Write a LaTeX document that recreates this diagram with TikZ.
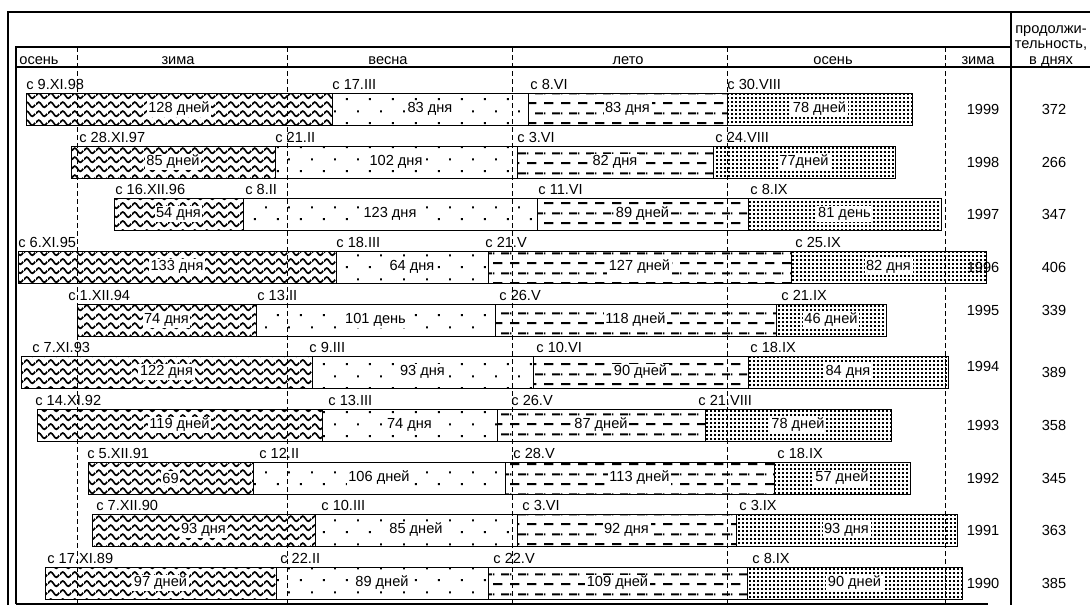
\documentclass[tikz,border=0pt]{standalone}
\usepackage{fontspec}
\setmainfont{Liberation Sans}
\usepackage{tikz}
\usetikzlibrary{patterns.meta}

\tikzdeclarepattern{
  name=winterwaves,
  type=uncolored,
  bottom left={(0pt,0pt)},
  top right={(6pt,4.6pt)},
  tile size={(6pt,4.6pt)},
  code={
    \draw[line width=0.9pt] (0pt,2.3pt) sin (1.5pt,3.7pt) cos (3pt,2.3pt) sin (4.5pt,0.9pt) cos (6pt,2.3pt);
  }
}
\tikzdeclarepattern{
  name=springdots,
  type=uncolored,
  bottom left={(0pt,0pt)},
  top right={(11.5pt,12pt)},
  tile size={(11.5pt,12pt)},
  code={
    \fill (0.5pt,0.5pt) rectangle (1.5pt,1.5pt);
    \fill (6.25pt,6.5pt) rectangle (7.25pt,7.5pt);
  }
}
\tikzdeclarepattern{
  name=summerdashes,
  type=uncolored,
  bottom left={(0pt,0pt)},
  top right={(8.5pt,10pt)},
  tile size={(8.5pt,10pt)},
  code={
    \fill (0pt,0.5pt) rectangle (5pt,1.5pt);
    \fill (4.25pt,5.5pt) rectangle (8.5pt,6.5pt);
    \fill (0pt,5.5pt) rectangle (0.75pt,6.5pt);
  }
}
\tikzdeclarepattern{
  name=autumndots,
  type=uncolored,
  bottom left={(0pt,0pt)},
  top right={(1.8pt,1.8pt)},
  tile size={(1.8pt,1.8pt)},
  code={
    \fill (0pt,0pt) rectangle (1pt,1pt);
  }
}

\begin{document}
\begin{tikzpicture}[x=0.5pt, y=-0.5pt,
        font=\fontsize{7.3}{8.5}\selectfont,
        frameline/.style={line width=0.6pt},
        season/.style={line width=0.4pt, dash pattern=on 2.5pt off 1.5pt},
        segbox/.style={draw, line width=0.5pt, pattern color=black},
        zimabar/.style={segbox, pattern=winterwaves},
        vesnabar/.style={segbox, pattern=springdots},
        letobar/.style={segbox, pattern=summerdashes},
        osenbar/.style={segbox, pattern=autumndots},
        headlbl/.style={anchor=base, inner sep=0pt},
        datelbl/.style={anchor=base west, inner sep=0pt},
        dayslbl/.style={fill=white, inner sep=0.8pt},
        yearlbl/.style={inner sep=0.5pt},
        totallbl/.style={inner sep=0.5pt}]
        \useasboundingbox (0, 0) rectangle (1090, 605);

        % frame
        \draw[frameline] (8, 605) -- (8, 12) -- (1090, 12);
        \draw[frameline] (16, 604) -- (16, 47) -- (1011, 47);
        \draw[frameline] (16, 67) -- (1090, 67);
        \draw[frameline] (1011, 12) -- (1011, 605);
        \draw[frameline] (16, 604) -- (988, 604);

        \draw[season] (77, 47) -- (77, 604);
        \draw[season] (287, 47) -- (287, 604);
        \draw[season] (512, 47) -- (512, 604);
        \draw[season] (727, 47) -- (727, 604);
        \draw[season] (945, 47) -- (945, 604);

        \node[headlbl] (hos1) at (39, 64) {осень};
        \node[headlbl] (hzi1) at (178, 64) {зима};
        \node[headlbl] (hve) at (388, 64) {весна};
        \node[headlbl] (hle) at (628, 64) {лето};
        \node[headlbl] (hos2) at (833, 64) {осень};
        \node[headlbl] (hzi2) at (978, 64) {зима};
        \node[headlbl] (hdur1) at (1051, 33) {продолжи-};
        \node[headlbl] (hdur2) at (1051, 48.5) {тельность,};
        \node[headlbl] (hdur3) at (1051, 64) {в днях};

        % 1999
        \node[yearlbl] (y99) at (983, 109) {1999};
        \node[totallbl] (t99) at (1054, 109) {372};
        \draw[zimabar] (26, 93) rectangle (332, 125);
        \draw[vesnabar] (332, 93) rectangle (528, 125);
        \draw[letobar] (528, 93) rectangle (727, 125);
        \draw[osenbar] (727, 93) rectangle (912, 125);
        \node[datelbl] (z99) at (26, 89.5) {с 9.XI.98};
        \node[datelbl] (v99) at (332, 89.5) {с 17.III};
        \node[datelbl] (l99) at (530, 89.5) {с 8.VI};
        \node[datelbl] (o99) at (727, 89.5) {с 30.VIII};
        \node[dayslbl] (zd99) at (179, 109) {128 дней};
        \node[dayslbl] (vd99) at (430, 109) {83 дня};
        \node[dayslbl] (ld99) at (627.5, 109) {83 дня};
        \node[dayslbl] (od99) at (819.5, 109) {78 дней};

        % 1998
        \node[yearlbl] (y98) at (983, 162) {1998};
        \node[totallbl] (t98) at (1054, 162) {266};
        \draw[zimabar] (71, 146) rectangle (275, 178);
        \draw[vesnabar] (275, 146) rectangle (517, 178);
        \draw[letobar] (517, 146) rectangle (713, 178);
        \draw[osenbar] (713, 146) rectangle (895, 178);
        \node[datelbl] (z98) at (79, 142.5) {с 28.XI.97};
        \node[datelbl] (v98) at (275, 142.5) {с 21.II};
        \node[datelbl] (l98) at (517, 142.5) {с 3.VI};
        \node[datelbl] (o98) at (715, 142.5) {с 24.VIII};
        \node[dayslbl] (zd98) at (173, 162) {85 дней};
        \node[dayslbl] (vd98) at (396, 162) {102 дня};
        \node[dayslbl] (ld98) at (615, 162) {82 дня};
        \node[dayslbl] (od98) at (804, 162) {77дней};

        % 1997
        \node[yearlbl] (y97) at (983, 214) {1997};
        \node[totallbl] (t97) at (1054, 214) {347};
        \draw[zimabar] (114, 198) rectangle (243, 230);
        \draw[vesnabar] (243, 198) rectangle (537, 230);
        \draw[letobar] (537, 198) rectangle (748, 230);
        \draw[osenbar] (748, 198) rectangle (941, 230);
        \node[datelbl] (z97) at (115, 194.5) {с 16.XII.96};
        \node[datelbl] (v97) at (245, 194.5) {с 8.II};
        \node[datelbl] (l97) at (538, 194.5) {с 11.VI};
        \node[datelbl] (o97) at (750, 194.5) {с 8.IX};
        \node[dayslbl] (zd97) at (178.5, 214) {54 дня};
        \node[dayslbl] (vd97) at (390, 214) {123 дня};
        \node[dayslbl] (ld97) at (642.5, 214) {89 дней};
        \node[dayslbl] (od97) at (844.5, 214) {81 день};

        % 1996
        \node[yearlbl] (y96) at (983, 267) {1996};
        \node[totallbl] (t96) at (1054, 267) {406};
        \draw[zimabar] (18, 251) rectangle (336, 283);
        \draw[vesnabar] (336, 251) rectangle (488, 283);
        \draw[letobar] (488, 251) rectangle (791, 283);
        \draw[osenbar] (791, 251) rectangle (986, 283);
        \node[datelbl] (z96) at (18, 247.5) {с 6.XI.95};
        \node[datelbl] (v96) at (336, 247.5) {с 18.III};
        \node[datelbl] (l96) at (485, 247.5) {с 21.V};
        \node[datelbl] (o96) at (795, 247.5) {с 25.IX};
        \node[dayslbl] (zd96) at (177, 267) {133 дня};
        \node[dayslbl] (vd96) at (412, 267) {64 дня};
        \node[dayslbl] (ld96) at (639.5, 267) {127 дней};
        \node[dayslbl] (od96) at (888.5, 267) {82 дня};

        % 1995
        \node[yearlbl] (y95) at (983, 310) {1995};
        \node[totallbl] (t95) at (1054, 310) {339};
        \draw[zimabar] (77, 304) rectangle (256, 336);
        \draw[vesnabar] (256, 304) rectangle (495, 336);
        \draw[letobar] (495, 304) rectangle (776, 336);
        \draw[osenbar] (776, 304) rectangle (886, 336);
        \node[datelbl] (z95) at (68, 300.5) {с 1.XII.94};
        \node[datelbl] (v95) at (257, 300.5) {с 13.II};
        \node[datelbl] (l95) at (499, 300.5) {с 26.V};
        \node[datelbl] (o95) at (781, 300.5) {с 21.IX};
        \node[dayslbl] (zd95) at (166.5, 320) {74 дня};
        \node[dayslbl] (vd95) at (375.5, 320) {101 день};
        \node[dayslbl] (ld95) at (635.5, 320) {118 дней};
        \node[dayslbl] (od95) at (831, 320) {46 дней};

        % 1994
        \node[yearlbl] (y94) at (983, 366) {1994};
        \node[totallbl] (t94) at (1054, 372) {389};
        \draw[zimabar] (21, 356) rectangle (312, 388);
        \draw[vesnabar] (312, 356) rectangle (533, 388);
        \draw[letobar] (533, 356) rectangle (748, 388);
        \draw[osenbar] (748, 356) rectangle (948, 388);
        \node[datelbl] (z94) at (32, 352.5) {с 7.XI.93};
        \node[datelbl] (v94) at (309, 352.5) {с 9.III};
        \node[datelbl] (l94) at (536, 352.5) {с 10.VI};
        \node[datelbl] (o94) at (750, 352.5) {с 18.IX};
        \node[dayslbl] (zd94) at (166.5, 372) {122 дня};
        \node[dayslbl] (vd94) at (422.5, 372) {93 дня};
        \node[dayslbl] (ld94) at (640.5, 372) {90 дней};
        \node[dayslbl] (od94) at (848, 372) {84 дня};

        % 1993
        \node[yearlbl] (y93) at (983, 425) {1993};
        \node[totallbl] (t93) at (1054, 425) {358};
        \draw[zimabar] (37, 409) rectangle (322, 441);
        \draw[vesnabar] (322, 409) rectangle (497, 441);
        \draw[letobar] (497, 409) rectangle (705, 441);
        \draw[osenbar] (705, 409) rectangle (891, 441);
        \node[datelbl] (z93) at (35, 405.5) {с 14.XI.92};
        \node[datelbl] (v93) at (328, 405.5) {с 13.III};
        \node[datelbl] (l93) at (511, 405.5) {с 26.V};
        \node[datelbl] (o93) at (698, 405.5) {с 21.VIII};
        \node[dayslbl] (zd93) at (179.5, 425) {119 дней};
        \node[dayslbl] (vd93) at (409.5, 425) {74 дня};
        \node[dayslbl] (ld93) at (601, 425) {87 дней};
        \node[dayslbl] (od93) at (798, 425) {78 дней};

        % 1992
        \node[yearlbl] (y92) at (983, 478) {1992};
        \node[totallbl] (t92) at (1054, 478) {345};
        \draw[zimabar] (88, 462) rectangle (253, 494);
        \draw[vesnabar] (253, 462) rectangle (505, 494);
        \draw[letobar] (505, 462) rectangle (774, 494);
        \draw[osenbar] (774, 462) rectangle (910, 494);
        \node[datelbl] (z92) at (87, 458.5) {с 5.XII.91};
        \node[datelbl] (v92) at (259, 458.5) {с 12.II};
        \node[datelbl] (l92) at (513, 458.5) {с 28.V};
        \node[datelbl] (o92) at (777, 458.5) {с 18.IX};
        \node[dayslbl] (zd92) at (170.5, 478) {69};
        \node[dayslbl] (vd92) at (379, 478) {106 дней};
        \node[dayslbl] (ld92) at (639.5, 478) {113 дней};
        \node[dayslbl] (od92) at (842, 478) {57 дней};

        % 1991
        \node[yearlbl] (y91) at (983, 530) {1991};
        \node[totallbl] (t91) at (1054, 530) {363};
        \draw[zimabar] (92, 514) rectangle (315, 546);
        \draw[vesnabar] (315, 514) rectangle (517, 546);
        \draw[letobar] (517, 514) rectangle (736, 546);
        \draw[osenbar] (736, 514) rectangle (957, 546);
        \node[datelbl] (z91) at (96, 510.5) {с 7.XII.90};
        \node[datelbl] (v91) at (321, 510.5) {с 10.III};
        \node[datelbl] (l91) at (522, 510.5) {с 3.VI};
        \node[datelbl] (o91) at (739, 510.5) {с 3.IX};
        \node[dayslbl] (zd91) at (203.5, 530) {93 дня};
        \node[dayslbl] (vd91) at (416, 530) {85 дней};
        \node[dayslbl] (ld91) at (626.5, 530) {92 дня};
        \node[dayslbl] (od91) at (846.5, 530) {93 дня};

        % 1990
        \node[yearlbl] (y90) at (983, 583) {1990};
        \node[totallbl] (t90) at (1054, 583) {385};
        \draw[zimabar] (45, 567) rectangle (276, 599);
        \draw[vesnabar] (276, 567) rectangle (488, 599);
        \draw[letobar] (488, 567) rectangle (747, 599);
        \draw[osenbar] (747, 567) rectangle (962, 599);
        \node[datelbl] (z90) at (47, 563.5) {с 17.XI.89};
        \node[datelbl] (v90) at (280, 563.5) {с 22.II};
        \node[datelbl] (l90) at (493, 563.5) {с 22.V};
        \node[datelbl] (o90) at (752, 563.5) {с 8.IX};
        \node[dayslbl] (zd90) at (160.5, 583) {97 дней};
        \node[dayslbl] (vd90) at (382, 583) {89 дней};
        \node[dayslbl] (ld90) at (617.5, 583) {109 дней};
        \node[dayslbl] (od90) at (854.5, 583) {90 дней};
    \end{tikzpicture}
\end{document}
